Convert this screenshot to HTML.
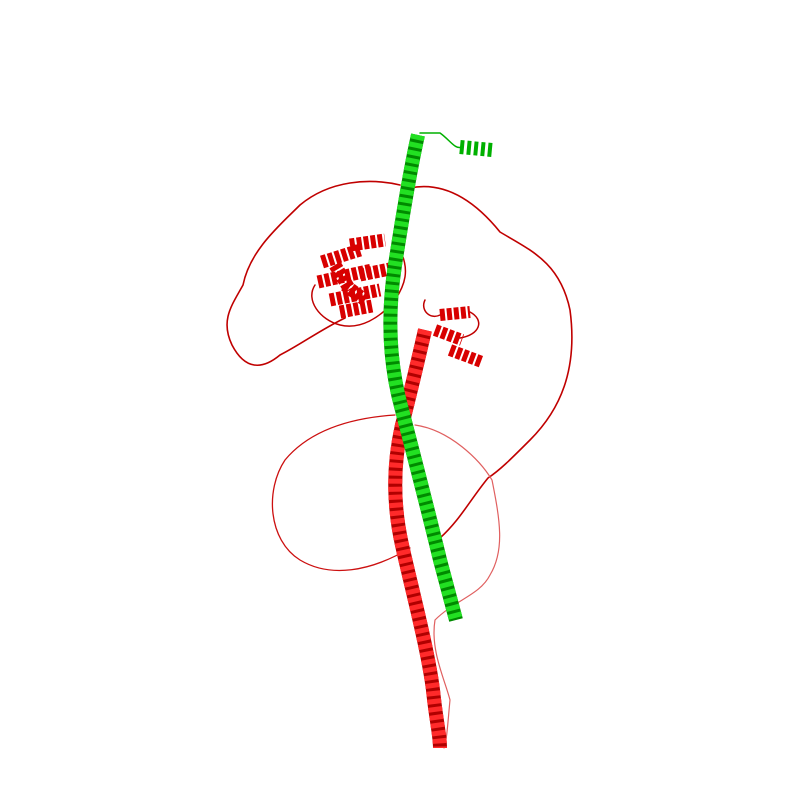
<!DOCTYPE html>
<html><head><meta charset="utf-8"><style>html,body{margin:0;padding:0;background:#fff}svg{display:block}</style></head>
<body>
<svg width="800" height="800" viewBox="0 0 800 800">
<g fill="none" stroke-linejoin="round" stroke-linecap="round">
<path stroke="#c00000" stroke-width="1.6" d="M400,185 C370,178 330,180 300,205 C280,225 250,250 243,285 C232,305 220,320 232,345 C245,370 262,370 280,355 C300,345 320,330 345,318"/>
<path stroke="#c00000" stroke-width="1.6" d="M410,188 C440,182 470,195 500,232 C530,250 560,262 570,310 C578,370 560,410 530,440 C510,460 500,470 488,478 C470,500 460,520 440,538"/>
<path stroke="#cc1010" stroke-width="1.3" d="M395,415 C350,418 310,430 285,460 C265,490 268,540 300,560 C330,578 370,572 410,548"/>
<path stroke="#e06060" stroke-width="1.2" d="M415,425 C450,430 480,460 492,480 C500,520 505,550 490,575 C480,595 455,600 435,620 C430,650 445,680 450,700 C448,720 447,740 444,748"/>
<path stroke="#00b000" stroke-width="1.5" d="M420,133 L440,133 C450,140 455,150 462,147"/>
<path stroke="#c00000" stroke-width="1.5" d="M315,285 C305,300 320,320 340,325 C360,330 380,318 395,300 C405,285 410,270 400,250"/>
<g stroke="#d80000" stroke-width="13" stroke-linecap="butt" stroke-dasharray="5 2">
<path d="M322,262 L360,250 M318,282 L372,270 M330,300 L380,290 M340,312 L372,306 M350,245 L385,240 M360,275 L395,268 M345,285 L365,300 M335,265 L350,290"/>
</g>
<path stroke="#c00000" stroke-width="1.5" d="M425,300 C420,310 430,320 440,315 M470,312 C485,320 480,335 460,338"/>
<g stroke="#d80000" stroke-width="12" stroke-linecap="butt" stroke-dasharray="5 2">
<path d="M440,315 L470,312 M450,350 L482,362 M435,330 L462,340"/>
</g>
<path stroke="#b00000" stroke-width="14" stroke-linecap="butt" d="M425,330 C418,360 410,395 402,425 C394,460 392,500 402,545 C412,590 428,650 433,690 C436,720 440,735 440,748"/>
<path stroke="#ff2a2a" stroke-width="14" stroke-linecap="butt" stroke-dasharray="5 3" d="M425,330 C418,360 410,395 402,425 C394,460 392,500 402,545 C412,590 428,650 433,690 C436,720 440,735 440,748"/>
<path stroke="#008a00" stroke-width="14" stroke-linecap="butt" d="M418,135 C410,170 402,220 395,265 C388,310 388,360 402,410 C415,460 428,510 440,560 C448,590 452,605 456,620"/>
<path stroke="#22e022" stroke-width="14" stroke-linecap="butt" stroke-dasharray="5 3" d="M418,135 C410,170 402,220 395,265 C388,310 388,360 402,410 C415,460 428,510 440,560 C448,590 452,605 456,620"/>
<path stroke="#00b000" stroke-width="14" stroke-linecap="butt" stroke-dasharray="4 3" d="M460,147 L492,150"/>
</g>
</svg>
</body></html>
